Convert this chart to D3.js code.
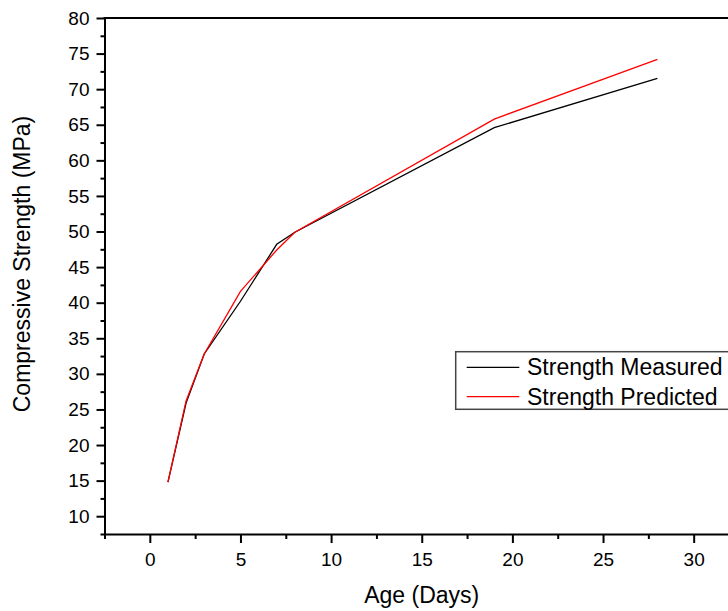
<!DOCTYPE html>
<html>
<head>
<meta charset="utf-8">
<script src="https://cdn.jsdelivr.net/npm/d3@7"></script>
<style>
  html, body { margin: 0; padding: 0; background: #fff; }
  svg { display: block; font-family: Arial, "Liberation Sans", sans-serif; }
</style>
</head>
<body>
<svg id="chart" width="728" height="611"></svg>
<script>
const ages = [1, 2, 3, 5, 7, 8, 19, 28];
const measured = [14.8, 25.9, 32.8, 40.2, 48.2, 49.9, 64.6, 71.5];
const predicted = [14.8, 26.2, 32.8, 41.6, 47.4, 49.9, 65.8, 74.2];
const xTicks = [0, 5, 10, 15, 20, 25, 30];
const yTicks = [10, 15, 20, 25, 30, 35, 40, 45, 50, 55, 60, 65, 70, 75, 80];
const seriesNames = ['Strength Measured', 'Strength Predicted'];
const seriesColors = ['#000', '#ff0000'];

(function () {
  const svg = d3.select('#chart');
  const mLeft = 104.5, mRight = 739, mTop = 18, mBottom = 534;

  const x = d3.scaleLinear().domain([-2.5, 32.5]).range([mLeft, mRight]);
  const y = d3.scaleLinear().domain([7.5, 80]).range([mBottom, mTop]);

  // minor ticks halfway between majors
  const xMinor = d3.range(-2.5, 33, 5);
  const yMinor = d3.range(7.5, 80, 5);

  const xAxis = svg.append('g').attr('transform', `translate(0,${mBottom})`);
  xAxis.call(d3.axisBottom(x).tickValues(xTicks).tickSize(9).tickPadding(6).tickSizeOuter(0));
  xAxis.append('g').call(d3.axisBottom(x).tickValues(xMinor).tickSize(5).tickFormat('').tickSizeOuter(0))
    .select('.domain').remove();

  const yAxis = svg.append('g').attr('transform', `translate(${mLeft},0)`);
  yAxis.call(d3.axisLeft(y).tickValues(yTicks).tickSize(8).tickPadding(7).tickSizeOuter(0));
  yAxis.append('g').call(d3.axisLeft(y).tickValues(yMinor).tickSize(4).tickFormat('').tickSizeOuter(0))
    .select('.domain').remove();

  svg.selectAll('.tick line').attr('stroke', '#000').attr('stroke-width', 2);
  svg.selectAll('.domain').attr('stroke', '#000').attr('stroke-width', 2);
  svg.selectAll('.tick text').attr('fill', '#000').style('font-size', '19px');
  xAxis.selectAll('.tick text').attr('dy', '0.9em');

  // top frame line
  svg.append('line')
    .attr('x1', mLeft - 1).attr('x2', mRight)
    .attr('y1', mTop).attr('y2', mTop)
    .attr('stroke', '#000').attr('stroke-width', 2);

  // axis titles
  svg.append('text')
    .attr('x', (mLeft + mRight) / 2).attr('y', 603)
    .attr('text-anchor', 'middle')
    .style('font-size', '23px')
    .text('Age (Days)');

  svg.append('text')
    .attr('transform', 'translate(30,264) rotate(-90)')
    .attr('text-anchor', 'middle')
    .style('font-size', '23px')
    .text('Compressive Strength (MPa)');

  const line = d3.line().x(d => x(d[0])).y(d => y(d[1]));
  [measured, predicted].forEach((vals, i) => {
    svg.append('path')
      .datum(ages.map((a, j) => [a, vals[j]]))
      .attr('d', line)
      .attr('fill', 'none')
      .attr('stroke', seriesColors[i])
      .attr('stroke-width', 1.3);
  });

  // legend
  const lg = svg.append('g');
  lg.append('rect')
    .attr('x', 455.7).attr('y', 351.7)
    .attr('width', 300).attr('height', 57.6)
    .attr('fill', '#fff').attr('stroke', '#444').attr('stroke-width', 1.5);
  seriesNames.forEach((name, i) => {
    const ry = 367.3 + i * 29.4;
    lg.append('line')
      .attr('x1', 466.7).attr('x2', 519.3)
      .attr('y1', ry).attr('y2', ry)
      .attr('stroke', seriesColors[i]).attr('stroke-width', 1.3);
    lg.append('text')
      .attr('x', 527).attr('y', ry + 8)
      .style('font-size', '23px')
      .text(name);
  });
})();
</script>
</body>
</html>
